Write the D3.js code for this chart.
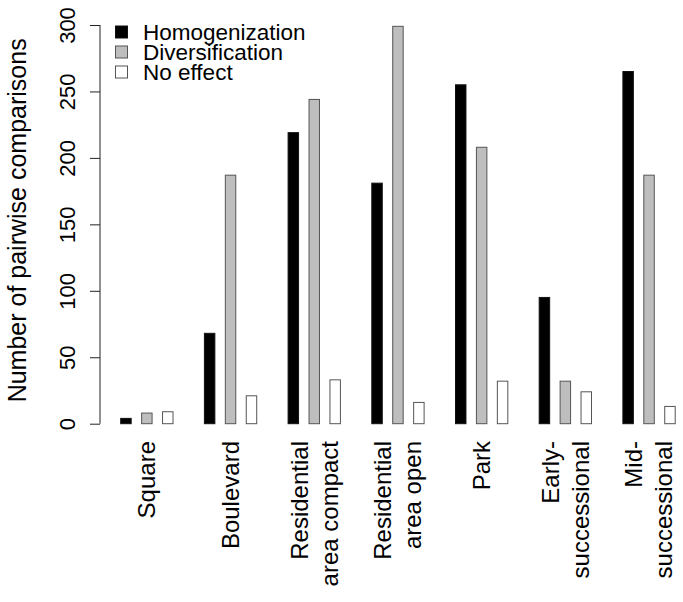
<!DOCTYPE html>
<html>
<head>
<meta charset="utf-8">
<script src="https://cdn.jsdelivr.net/npm/d3@7"></script>
<style>
  html, body { margin: 0; padding: 0; background: #fff; }
  svg { display: block; font-family: "Liberation Sans", Arial, sans-serif; }
</style>
</head>
<body>
<svg id="chart" width="683" height="602"></svg>
<script>
// ---- data ----
const categories = ["Square", "Boulevard", "Residential\narea compact", "Residential\narea open", "Park", "Early-\nsuccessional", "Mid-\nsuccessional"];
const seriesNames = ["Homogenization", "Diversification", "No effect"];
const homogenization = [4, 68, 219, 181, 255, 95, 265];
const diversification = [8, 187, 244, 299, 208, 32, 187];
const noEffect = [9, 21, 33, 16, 32, 24, 13];
const yTicks = [0, 50, 100, 150, 200, 250, 300];
const yTitle = "Number of pairwise comparisons";

// ---- styles ----
const fills = ["#000000", "#bebebe", "#ffffff"];
const strokes = ["#111111", "#555555", "#555555"];

const svg = d3.select("#chart");
const series = [homogenization, diversification, noEffect];

// bar units: group step 8 units, bar step 2 units, bar width 1 unit
const x = d3.scaleLinear().domain([0, 53]).range([120.7, 675.2]);
const y = d3.scaleLinear().domain([0, 300]).range([423.7, 25]);

const bars = [];
categories.forEach((c, i) => {
  series.forEach((s, j) => {
    bars.push({ i, j, v: s[i], u: i * 8 + j * 2 });
  });
});

svg.append("g").selectAll("rect").data(bars).join("rect")
  .attr("x", d => x(d.u))
  .attr("width", d => x(d.u + 1) - x(d.u))
  .attr("y", d => y(d.v))
  .attr("height", d => y(0) - y(d.v))
  .attr("fill", d => fills[d.j])
  .attr("stroke", d => strokes[d.j])
  .attr("stroke-width", 1);

// y axis
const axisX = 100;
const yAxis = d3.axisLeft(y).tickValues(yTicks).tickSize(10).tickPadding(0).tickFormat(d3.format("d"));
const ag = svg.append("g").attr("transform", `translate(${axisX},0)`).call(yAxis);
ag.select(".domain").attr("stroke", "#222").attr("d", `M0,${y(0)}V${y(300)}`);
ag.selectAll(".tick line").attr("stroke", "#222");
ag.selectAll(".tick text")
  .attr("x", null).attr("dy", null)
  .attr("text-anchor", "middle")
  .attr("font-size", 22)
  .attr("fill", "#000")
  .attr("transform", "translate(-33,0) rotate(-90) translate(0,8)");
ag.attr("font-family", null);

// y title
svg.append("text")
  .attr("transform", `translate(17,${(y(0) + y(300)) / 2 - 4}) rotate(-90)`)
  .attr("text-anchor", "middle")
  .attr("dy", "0.35em")
  .attr("font-size", 25)
  .text(yTitle);

// category labels
const lineGap = 30;
categories.forEach((c, i) => {
  const cx = (x(i * 8) + x(i * 8 + 5)) / 2;
  const lines = c.split("\n");
  lines.forEach((ln, k) => {
    const off = (k - (lines.length - 1) / 2) * lineGap;
    svg.append("text")
      .attr("transform", `translate(${cx + off},441) rotate(-90)`)
      .attr("text-anchor", "end")
      .attr("dy", "0.35em")
      .attr("font-size", 24)
      .text(ln);
  });
});

// legend
const lg = svg.append("g");
seriesNames.forEach((n, k) => {
  const cy = 32 + k * 20;
  lg.append("rect")
    .attr("x", 115.5).attr("y", cy - 6).attr("width", 12).attr("height", 12)
    .attr("fill", fills[k]).attr("stroke", strokes[k]).attr("stroke-width", 1);
  lg.append("text")
    .attr("x", 143).attr("y", cy).attr("dy", "0.35em")
    .attr("font-size", 22.5)
    .text(n);
});
</script>
</body>
</html>
